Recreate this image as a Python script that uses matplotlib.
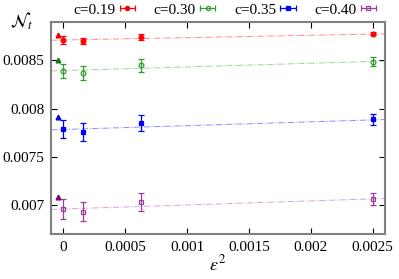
import numpy as np
import matplotlib
matplotlib.use("Agg")
import matplotlib.pyplot as plt

# data
eps2 = [0.0, 0.00015625, 0.000625, 0.0025]
eps2_tri = -0.00004

labels = ["c=0.19", "c=0.30", "c=0.35", "c=0.40"]
n_019 = [0.008709, 0.008699, 0.008740, 0.008775]
e_019 = [0.00004, 0.00003, 0.00003, 0.000015]
n_030 = [0.008390, 0.008366, 0.008448, 0.008487]
e_030 = [0.000076, 0.000072, 0.000065, 0.000046]
n_035 = [0.007784, 0.007756, 0.007853, 0.007890]
e_035 = [0.000093, 0.000090, 0.000082, 0.000057]
n_040 = [0.006959, 0.006931, 0.007031, 0.007062]
e_040 = [0.000100, 0.000100, 0.000093, 0.000062]
n_tri = [0.008758, 0.008500, 0.007910, 0.007086]

# linear fits: intercept, slope
fit_a = [0.008711, 0.008394, 0.007784, 0.006960]
fit_b = [0.0244, 0.0381, 0.0396, 0.0419]

xticks = [0, 0.0005, 0.001, 0.0015, 0.002, 0.0025]
xticklabels = ["0", "0.0005", "0.001", "0.0015", "0.002", "0.0025"]
yticks = [0.007, 0.0075, 0.008, 0.0085]
yticklabels = ["0.007", "0.0075", "0.008", "0.0085"]

plt.rcParams['font.family'] = ['Liberation Serif', 'DejaVu Serif']
plt.rcParams['mathtext.fontset'] = 'stix'
plt.rcParams['font.size'] = 11

colors = ['#ff0000', '#2e9e2e', '#0000ff', '#9c3c9c']
tri_colors = ['#e00000', '#108010', '#0000e0', '#800080']
markers = ['o', 'o', 's', 's']
filled = [True, False, True, False]
series = [n_019, n_030, n_035, n_040]
errs = [e_019, e_030, e_035, e_040]

fig = plt.figure(figsize=(3.99, 2.79), dpi=100)
ax = fig.add_axes([0.128, 0.161, 0.837, 0.761])

xmin, xmax = -0.0001, 0.0026
xl = np.array([xmin, xmax])
handles = []
for i in range(4):
    c = colors[i]
    ax.plot(xl, fit_a[i] + fit_b[i] * xl, color=c, lw=0.7, ls='-.', alpha=0.45)
    ax.errorbar(eps2, series[i], yerr=errs[i], fmt=markers[i], color=c,
                mfc=c if filled[i] else 'none', mec=c, ms=3.4, mew=0.9,
                elinewidth=0.9, capsize=2, capthick=0.9)
    ax.plot([eps2_tri], [n_tri[i]], '^', color=tri_colors[i], ms=3.4)
    h = ax.errorbar([np.nan], [np.nan], xerr=[1], fmt=markers[i], color=c,
                    mfc=c if filled[i] else 'none', mec=c, ms=3.0, mew=0.9,
                    elinewidth=0.9, capsize=2, capthick=0.9)
    handles.append(h)

ax.set_xlim(xmin, xmax)
ax.set_ylim(0.0067, 0.0089)
ax.set_xticks(xticks)
ax.set_xticklabels(xticklabels)
ax.set_yticks(yticks)
ax.set_yticklabels(yticklabels)
ax.tick_params(direction='in', length=4, width=0.8, top=True, right=True, pad=5)
for s in ax.spines.values():
    s.set_color('#808080')
    s.set_linewidth(1.5)

ax.set_xlabel(r"$\varepsilon^2$", fontsize=13, labelpad=0)
fig.text(0.055, 0.925, r"$\mathcal{N}_t$", fontsize=13, ha='center', va='center')

fig.legend(handles, labels, ncol=4, loc='center', bbox_to_anchor=(0.562, 0.965),
           frameon=False, markerfirst=False, handlelength=0.85, handletextpad=0.35,
           columnspacing=1.3, borderpad=0, borderaxespad=0)

fig.savefig("out.png", dpi=100)
